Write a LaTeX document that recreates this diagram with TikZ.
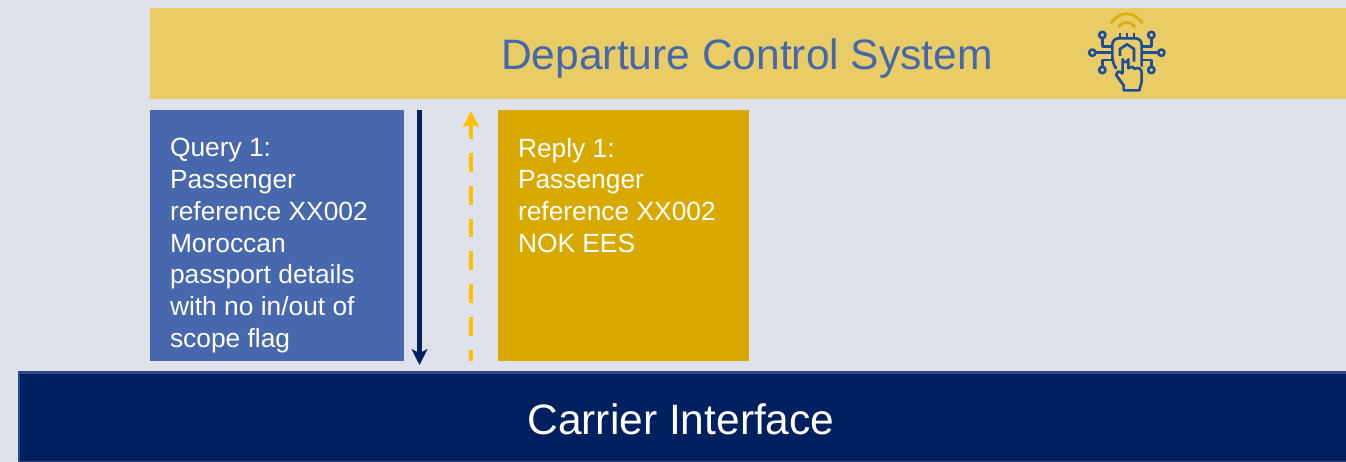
\documentclass[tikz,border=0pt]{standalone}
\usepackage{fontspec}
\setmainfont{Liberation Sans}
\usetikzlibrary{arrows.meta}
\definecolor{pagebg}{HTML}{DFE2EB}
\definecolor{bandgold}{HTML}{E9CC66}
\definecolor{queryblue}{HTML}{4768AC}
\definecolor{replygold}{HTML}{D8A900}
\definecolor{navy}{HTML}{002060}
\definecolor{navyedge}{HTML}{2F4A80}
\definecolor{dashgold}{HTML}{FFC000}
\definecolor{titleblue}{HTML}{4468AC}
\definecolor{iconblue}{HTML}{1F4E96}
\definecolor{wifigold}{HTML}{DDAE10}
\newlength{\pxu}
\setlength{\pxu}{.02cm}
\newcommand{\blocktext}[2][214]{\parbox[t][195\pxu][t]{#1\pxu}{\raggedright\fontsize{15}{18.14}\selectfont #2}}
\begin{document}
\begin{tikzpicture}[
        x = .02cm,
        y = -.02cm,
        area/.style = {inner sep = 0, outer sep = 0, anchor = north west},
        block/.style = {area, text = white, inner xsep = 20\pxu, inner ysep = 28\pxu},
        iconline/.style = {draw = iconblue, line width = 1.5pt, line join = round},
        wifiline/.style = {draw = wifigold, line width = 1.5pt}
    ]
        \useasboundingbox (0, 0) rectangle (1346, 462);
        \node[area, fill = pagebg, minimum width = 1346\pxu, minimum height = 462\pxu] (page) at (0, 0) {};
        \node[area, fill = bandgold, minimum width = 1196\pxu, minimum height = 91\pxu] (band) at (150, 8) {};
        \node[text = titleblue, font = \fontsize{24.2}{29}\selectfont] (title) at (747, 59) {Departure Control System};

        \node[block, fill = queryblue] (query) at (150, 110) {\blocktext{Query 1:\\Passenger\\reference XX002\\Moroccan\\passport details\\with no in/out of\\scope flag}};
        \node[block, fill = replygold] (reply) at (498, 110) {\blocktext[211]{Reply 1:\\Passenger\\reference XX002\\NOK EES}};

        \node[area, fill = navy, draw = navyedge, line width = 1.2pt, minimum width = 1330\pxu, minimum height = 90\pxu] (carrier) at (19, 372.5) {};
        \node[text = white, font = \fontsize{24.2}{29}\selectfont] (carriertext) at (681, 419) {Carrier Interface};

        \coordinate (querystart) at (419.5, 110);
        \coordinate (queryend) at (419.5, 365);
        \coordinate (replystart) at (471, 361);
        \coordinate (replyend) at (471, 111);
        \draw[navy, line width = 2.5pt, -{Stealth[length = 9pt, width = 9pt, inset = 2.2pt]}] (querystart) -- (queryend);
        \draw[dashgold, line width = 2.5pt, dash pattern = on 10.8pt off 7.9pt, dash phase = 4.5pt, -{Stealth[length = 9pt, width = 9pt, inset = 1.2pt]}] (replystart) -- (replyend);

        \begin{scope}[shift = {(1060, 0)}, scale = 1/3]
            \draw[wifiline] (152, 70) .. controls (180, 32) and (220, 32) .. (248, 70);
            \draw[wifiline] (175, 82) .. controls (190, 62) and (210, 62) .. (225, 82);
            \foreach \cx/\cy in {127/105, 274/105, 97/158, 304/158, 127/210, 274/210}
                \draw[iconline] (\cx, \cy) circle (9.5);
            \draw[iconline] (127, 115) -- (127, 140) -- (157, 140);
            \draw[iconline] (274, 115) -- (274, 140) -- (245, 140);
            \draw[iconline] (107, 158) -- (157, 158);
            \draw[iconline] (294, 158) -- (245, 158);
            \draw[iconline] (127, 200) -- (127, 180) -- (157, 180);
            \draw[iconline] (274, 200) -- (274, 180) -- (245, 180);
            \foreach \cx in {180, 201, 222}
                \draw[iconline] (\cx, 100) -- (\cx, 115);
            \draw[iconline, rounded corners = 3.5pt] (163, 198) -- (157, 190) -- (157, 115) -- (245, 115) -- (245, 200);
            \draw[iconline] (180, 168) -- (180, 147) -- (201, 133) -- (222, 147) -- (222, 185);
            \draw[iconline, fill = bandgold] (188, 222) -- (188, 178) arc (180:0:8.5) -- (205, 205)
                .. controls (215, 198) and (222, 200) .. (224, 207)
                .. controls (232, 200) and (245, 205) .. (245, 218)
                -- (245, 245) -- (238, 271) -- (191, 271) -- (191, 256) -- (169, 226)
                .. controls (170, 212) and (180, 212) .. (188, 222);
        \end{scope}
    \end{tikzpicture}
\end{document}
